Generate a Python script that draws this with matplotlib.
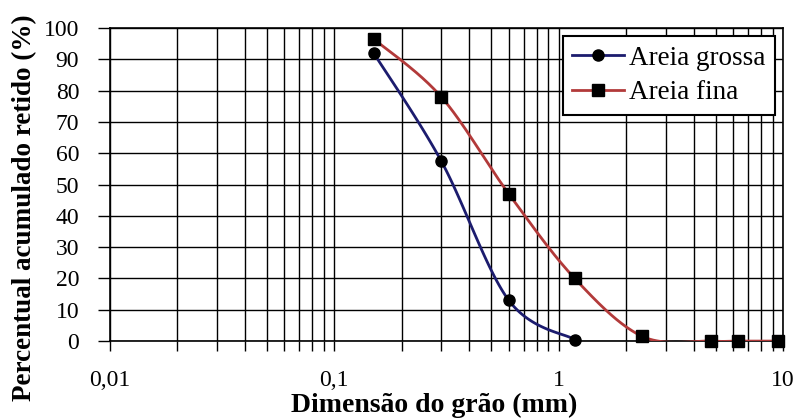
import numpy as np
import matplotlib
matplotlib.use("Agg")
import matplotlib.pyplot as plt
from matplotlib.ticker import FixedLocator, LogLocator, NullFormatter

# Sieve openings (mm) and cumulative retained percentage
grossa_mm = [0.15, 0.3, 0.6, 1.18]
grossa_pct = [92, 57.5, 13, 0.5]
fina_mm = [0.15, 0.3, 0.6, 1.18, 2.36, 4.75, 6.3, 9.5]
fina_pct = [96.5, 78, 47, 20, 1.5, 0, 0, 0]
series_names = ["Areia grossa", "Areia fina"]

x_ticks = [0.01, 0.1, 1, 10]
x_tick_labels = ["0,01", "0,1", "1", "10"]
y_ticks = list(range(0, 101, 10))

plt.rcParams["font.family"] = ["Liberation Serif", "DejaVu Serif"]

fig = plt.figure(figsize=(7.95, 4.18), dpi=100)
ax = fig.add_axes([0.138, 0.184, 0.847, 0.749])
ax.set_xscale("log")
ax.set_xlim(0.01, 10)
ax.set_ylim(0, 100)

W, H = 673.0, 313.0  # plot area size in pixels, used for smoothing in screen space


def smooth(xs, ys, n=40):
    u = (np.log10(xs) + 2) / 3 * W
    v = np.asarray(ys, float) / 100 * H
    P = np.column_stack([u, v])
    Pe = np.vstack([P[0], P, P[-1]])
    out = []
    t = np.linspace(0, 1, n)[:, None]
    for i in range(len(P) - 1):
        p0, p3 = P[i], P[i + 1]
        c1 = p0 + (Pe[i + 2] - Pe[i]) / 6
        c2 = p3 - (Pe[i + 3] - Pe[i + 1]) / 6
        seg = ((1 - t) ** 3) * p0 + 3 * ((1 - t) ** 2) * t * c1 + 3 * (1 - t) * t ** 2 * c2 + t ** 3 * p3
        out.append(seg if i == 0 else seg[1:])
    S = np.vstack(out)
    return 10 ** (S[:, 0] / W * 3 - 2), S[:, 1] / H * 100


colors = ["#1c1c6e", "#b23a3a"]
for xs, ys, c, m, name in [(grossa_mm, grossa_pct, colors[0], "o", series_names[0]),
                           (fina_mm, fina_pct, colors[1], "s", series_names[1])]:
    sx, sy = smooth(xs, ys)
    ax.plot(sx, sy, color=c, lw=2, zorder=3)
    ax.plot(xs, ys, linestyle="none", marker=m, color="black", ms=8, zorder=4, clip_on=False)
    ax.plot([], [], color=c, lw=2, marker=m, mfc="black", mec="black", ms=8, label=name)

ax.xaxis.set_major_locator(FixedLocator(x_ticks))
ax.set_xticklabels(x_tick_labels)
ax.xaxis.set_minor_locator(LogLocator(base=10, subs=np.arange(2, 10)))
ax.xaxis.set_minor_formatter(NullFormatter())
ax.set_yticks(y_ticks)

ax.grid(True, which="both", axis="x", color="black", lw=1)
ax.grid(True, which="major", axis="y", color="black", lw=1)
ax.set_axisbelow(True)
for s in ax.spines.values():
    s.set_color("black")
    s.set_linewidth(1.2)

ax.tick_params(axis="both", which="both", direction="out", color="black", width=1,
               labelsize=17)
ax.tick_params(axis="x", which="both", length=7, pad=14)
ax.tick_params(axis="y", which="major", length=9, pad=13)

fig.text(434 / 795, 1 - 405 / 418, "Dimensão do grão (mm)", fontsize=20,
         fontweight="bold", ha="center", va="center")
fig.text(25 / 795, 1 - 208 / 418, "Percentual acumulado retido (%)", fontsize=19.5,
         fontweight="bold", ha="center", va="center", rotation=90)

leg = ax.legend(loc="upper right", fontsize=19.5, frameon=True, fancybox=False,
                edgecolor="black", framealpha=1, borderaxespad=0.3, handlelength=1.9,
                handletextpad=0.2, labelspacing=0.35, borderpad=0.35)
leg.get_frame().set_linewidth(1.5)

fig.savefig("out.png", dpi=100, facecolor="white")
